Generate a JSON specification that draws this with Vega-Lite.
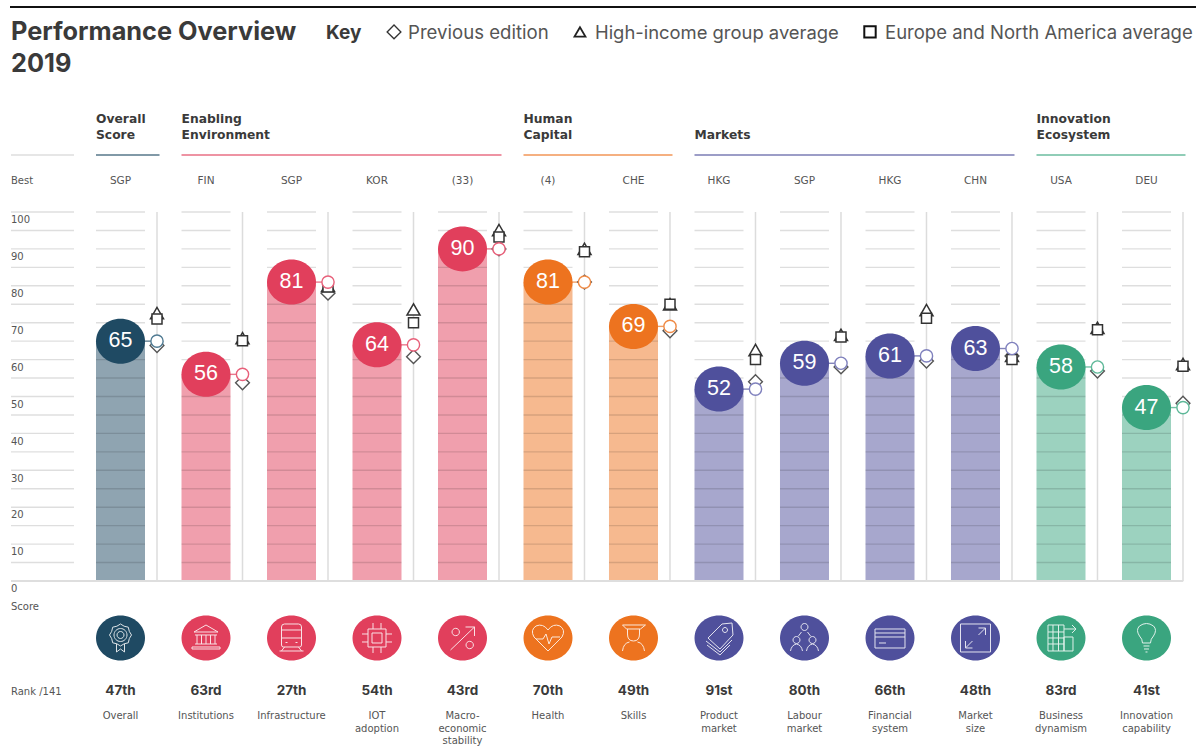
{"$schema":"https://vega.github.io/schema/vega-lite/v6.json","width":1196,"height":747,"padding":0,"autosize":{"type":"none"},"background":"white","config":{"view":{"stroke":null}},
"datasets":{"main":[
{"col":0,"pillar":"Overall","group":"Overall Score","score":65,"rank":"47th","code":"SGP","name":"Overall","prev":63.8,"high":72.6,"region":71},
{"col":1,"pillar":"Institutions","group":"Enabling Environment","score":56,"rank":"63rd","code":"FIN","name":"Institutions","prev":53.7,"high":65.8,"region":65.1},
{"col":2,"pillar":"Infrastructure","group":"Enabling Environment","score":81,"rank":"27th","code":"SGP","name":"Infrastructure","prev":78,"high":80,"region":79.7},
{"col":3,"pillar":"IOT adoption","group":"Enabling Environment","score":64,"rank":"54th","code":"KOR","name":"IOT\nadoption","prev":60.8,"high":73.6,"region":70},
{"col":4,"pillar":"Macroeconomic stability","group":"Enabling Environment","score":90,"rank":"43rd","code":"(33)","name":"Macro-\neconomic\nstability","prev":90,"high":95.1,"region":93.2},
{"col":5,"pillar":"Health","group":"Human Capital","score":81,"rank":"70th","code":"(4)","name":"Health","prev":81,"high":90,"region":89.2},
{"col":6,"pillar":"Skills","group":"Human Capital","score":69,"rank":"49th","code":"CHE","name":"Skills","prev":67.8,"high":75,"region":75},
{"col":7,"pillar":"Product market","group":"Markets","score":52,"rank":"91st","code":"HKG","name":"Product\nmarket","prev":54,"high":62.6,"region":60},
{"col":8,"pillar":"Labour market","group":"Markets","score":59,"rank":"80th","code":"SGP","name":"Labour\nmarket","prev":58,"high":66.7,"region":66.1},
{"col":9,"pillar":"Financial system","group":"Markets","score":61,"rank":"66th","code":"HKG","name":"Financial\nsystem","prev":59.6,"high":73.4,"region":71.2},
{"col":10,"pillar":"Market size","group":"Markets","score":63,"rank":"48th","code":"CHN","name":"Market\nsize","prev":61,"high":61,"region":60},
{"col":11,"pillar":"Business dynamism","group":"Innovation Ecosystem","score":58,"rank":"83rd","code":"USA","name":"Business\ndynamism","prev":56.9,"high":68.6,"region":68.1},
{"col":12,"pillar":"Innovation capability","group":"Innovation Ecosystem","score":47,"rank":"41st","code":"DEU","name":"Innovation\ncapability","prev":48.2,"high":58.8,"region":58.2}],
"groups":[
{"group":"Overall Score","line1":"Overall","line2":"Score","start":0,"end":0},
{"group":"Enabling Environment","line1":"Enabling","line2":"Environment","start":1,"end":4},
{"group":"Human Capital","line1":"Human","line2":"Capital","start":5,"end":6},
{"group":"Markets","line1":"","line2":"Markets","start":7,"end":10},
{"group":"Innovation Ecosystem","line1":"Innovation","line2":"Ecosystem","start":11,"end":12}],
"axisTicks":[{"tick":0},{"tick":10},{"tick":20},{"tick":30},{"tick":40},{"tick":50},{"tick":60},{"tick":70},{"tick":80},{"tick":90},{"tick":100}],
"levels":[{"level":5},{"level":10},{"level":15},{"level":20},{"level":25},{"level":30},{"level":35},{"level":40},{"level":45},{"level":50},{"level":55},{"level":60},{"level":65},{"level":70},{"level":75},{"level":80},{"level":85},{"level":90},{"level":95},{"level":100}],
"columnLevels":[{"col":0,"levels":[5,10,15,20,25,30,35,40,45,50,55,60,65,70,75,80,85,90,95,100]},{"col":1,"levels":[5,10,15,20,25,30,35,40,45,50,55,60,65,70,75,80,85,90,95,100]},{"col":2,"levels":[5,10,15,20,25,30,35,40,45,50,55,60,65,70,75,80,85,90,95,100]},{"col":3,"levels":[5,10,15,20,25,30,35,40,45,50,55,60,65,70,75,80,85,90,95,100]},{"col":4,"levels":[5,10,15,20,25,30,35,40,45,50,55,60,65,70,75,80,85,90,95,100]},{"col":5,"levels":[5,10,15,20,25,30,35,40,45,50,55,60,65,70,75,80,85,90,95,100]},{"col":6,"levels":[5,10,15,20,25,30,35,40,45,50,55,60,65,70,75,80,85,90,95,100]},{"col":7,"levels":[5,10,15,20,25,30,35,40,45,50,55,60,65,70,75,80,85,90,95,100]},{"col":8,"levels":[5,10,15,20,25,30,35,40,45,50,55,60,65,70,75,80,85,90,95,100]},{"col":9,"levels":[5,10,15,20,25,30,35,40,45,50,55,60,65,70,75,80,85,90,95,100]},{"col":10,"levels":[5,10,15,20,25,30,35,40,45,50,55,60,65,70,75,80,85,90,95,100]},{"col":11,"levels":[5,10,15,20,25,30,35,40,45,50,55,60,65,70,75,80,85,90,95,100]},{"col":12,"levels":[5,10,15,20,25,30,35,40,45,50,55,60,65,70,75,80,85,90,95,100]}]},
"data":{"name":"main"},
"layer":[
{"mark":{"type":"rule","xOffset":36.5,"stroke":"#dcdcdc","strokeWidth":1.5},"encoding":{"x":{"field":"col","type":"quantitative","axis":null,"scale":{"domain":[-1.4094,12.579],"nice":false,"zero":false,"padding":0}},"y":{"datum":0,"type":"quantitative","scale":{"domain":[-44.99,157.45],"nice":false,"zero":false},"axis":null},"y2":{"datum":100}}},
{"mark":{"type":"bar","width":49,"orient":"vertical","opacity":0.5},"encoding":{"x":{"field":"col","type":"quantitative","axis":null},"y":{"field":"score","type":"quantitative","axis":null},"y2":{"datum":0},"color":{"field":"group","type":"nominal","legend":null,"scale":{"domain":["Overall Score","Enabling Environment","Human Capital","Markets","Innovation Ecosystem"],"range":["#1f4a63","#e13f5c","#ed731f","#4f509c","#3aa57f"]}}}},
{"data":{"name":"columnLevels"},"transform":[{"flatten":["levels"]}],"mark":{"type":"tick","orient":"horizontal","size":49,"thickness":1.4,"color":"#000","opacity":0.13},"encoding":{"x":{"field":"col","type":"quantitative","axis":null},"y":{"field":"levels","type":"quantitative","axis":null}}},
{"data":{"name":"levels"},"mark":{"type":"rule","stroke":"#000","opacity":0.13,"strokeWidth":1.4},"encoding":{"x":{"datum":-1.2807,"type":"quantitative","axis":null},"x2":{"datum":-0.5439},"y":{"field":"level","type":"quantitative","axis":null}}},
{"data":{"name":"axisTicks"},"mark":{"type":"text","font":"DejaVu Sans","fontSize":10,"fill":"#555","align":"left","baseline":"middle","dy":8.3},"encoding":{"x":{"datum":-1.2807,"type":"quantitative","axis":null},"y":{"field":"tick","type":"quantitative","axis":null},"text":{"field":"tick"}}},
{"data":{"values":[{"line":"baseline"}]},"mark":{"type":"rule","stroke":"#dedede","strokeWidth":2},"encoding":{"x":{"datum":-1.2807,"type":"quantitative","axis":null},"x2":{"datum":12.43},"y":{"datum":0,"type":"quantitative","axis":null}}},
{"data":{"values":[{"line":"top"}]},"mark":{"type":"rule","stroke":"#111","strokeWidth":2},"encoding":{"x":{"datum":-1.2924,"type":"quantitative","axis":null},"x2":{"datum":12.579},"y":{"datum":155.56,"type":"quantitative","axis":null}}},
{"data":{"values":[{"line":"axis"}]},"mark":{"type":"rule","stroke":"#dedede","strokeWidth":1.5},"encoding":{"x":{"datum":-1.2807,"type":"quantitative","axis":null},"x2":{"datum":-0.5439},"y":{"datum":115.45,"type":"quantitative","axis":null}}},
{"data":{"name":"groups"},"mark":{"type":"rule","xOffset":-24.5,"x2Offset":39,"strokeWidth":1.5,"opacity":0.75},"encoding":{"x":{"field":"start","type":"quantitative","axis":null},"x2":{"field":"end"},"y":{"datum":115.45,"type":"quantitative","axis":null},"color":{"field":"group","type":"nominal","legend":null}}},
{"data":{"name":"groups"},"mark":{"type":"text","align":"left","baseline":"middle","dx":-24.5,"font":"DejaVu Sans","fontWeight":"bold","fontSize":12.3,"fill":"#3a3a3a"},"encoding":{"x":{"field":"start","type":"quantitative","axis":null},"y":{"datum":125.1,"type":"quantitative","axis":null},"text":{"field":"line1"}}},
{"data":{"name":"groups"},"mark":{"type":"text","align":"left","baseline":"middle","dx":-24.5,"font":"DejaVu Sans","fontWeight":"bold","fontSize":12.3,"fill":"#3a3a3a"},"encoding":{"x":{"field":"start","type":"quantitative","axis":null},"y":{"datum":120.75,"type":"quantitative","axis":null},"text":{"field":"line2"}}},
{"mark":{"type":"tick","orient":"horizontal","size":13,"thickness":1.4,"xOffset":30},"encoding":{"x":{"field":"col","type":"quantitative","axis":null},"y":{"field":"score","type":"quantitative","axis":null},"color":{"field":"group","type":"nominal","legend":null}}},
{"mark":{"type":"point","shape":"diamond","size":190,"filled":true,"fill":"white","stroke":"#555","strokeWidth":1.4,"opacity":1,"xOffset":36.5},"encoding":{"x":{"field":"col","type":"quantitative","axis":null},"y":{"field":"prev","type":"quantitative","axis":null}}},
{"mark":{"type":"point","shape":"triangle-up","size":170,"filled":true,"fill":"white","stroke":"#333","strokeWidth":1.5,"opacity":1,"xOffset":36.5},"encoding":{"x":{"field":"col","type":"quantitative","axis":null},"y":{"field":"high","type":"quantitative","axis":null}}},
{"mark":{"type":"point","shape":"square","size":100,"filled":true,"fill":"white","stroke":"#333","strokeWidth":1.5,"opacity":1,"xOffset":36.5},"encoding":{"x":{"field":"col","type":"quantitative","axis":null},"y":{"field":"region","type":"quantitative","axis":null}}},
{"mark":{"type":"point","shape":"circle","size":150,"filled":true,"fill":"white","strokeWidth":1.4,"opacity":1,"xOffset":36.5},"encoding":{"x":{"field":"col","type":"quantitative","axis":null},"y":{"field":"score","type":"quantitative","axis":null},"stroke":{"field":"group","type":"nominal","legend":null,"scale":{"domain":["Overall Score","Enabling Environment","Human Capital","Markets","Innovation Ecosystem"],"range":["#4f7a92","#e8607a","#ef8a45","#7f80bd","#5db898"]}}}},
{"mark":{"type":"point","shape":"M-24.5,0A24.5,22.5,0,1,1,24.5,0A24.5,22.5,0,1,1,-24.5,0Z","size":4,"filled":true,"opacity":1},"encoding":{"x":{"field":"col","type":"quantitative","axis":null},"y":{"field":"score","type":"quantitative","axis":null},"color":{"field":"group","type":"nominal","legend":null}}},
{"mark":{"type":"text","font":"Liberation Sans","fontSize":21.5,"fill":"white","align":"center","baseline":"middle"},"encoding":{"x":{"field":"col","type":"quantitative","axis":null},"y":{"field":"score","type":"quantitative","axis":null},"text":{"field":"score"}}},
{"mark":{"type":"point","shape":"M-24.5,0A24.5,22.5,0,1,1,24.5,0A24.5,22.5,0,1,1,-24.5,0Z","size":4,"filled":true,"opacity":1},"encoding":{"x":{"field":"col","type":"quantitative","axis":null},"y":{"datum":-15.45,"type":"quantitative","axis":null},"color":{"field":"group","type":"nominal","legend":null}}},
{"mark":{"type":"point","size":4,"filled":false,"stroke":"white","strokeWidth":1,"opacity":0.85},"encoding":{"x":{"field":"col","type":"quantitative","axis":null},"y":{"datum":-15.45,"type":"quantitative","axis":null},"shape":{"field":"pillar","type":"nominal","legend":null,"scale":{"domain":["Overall","Institutions","Infrastructure","IOT adoption","Macroeconomic stability","Health","Skills","Product market","Labour market","Financial system","Market size","Business dynamism","Innovation capability"],"range":[
"M11,-3L8.8,0.6L7.8,4.8L3.6,5.8L0,8L-3.6,5.8L-7.8,4.8L-8.8,0.6L-11,-3L-8.8,-6.6L-7.8,-10.8L-3.6,-11.8L0,-14L3.6,-11.8L7.8,-10.8L8.8,-6.6ZM-6.5,-3A6.5,6.5,0,1,0,6.5,-3A6.5,6.5,0,1,0,-6.5,-3ZM-3.5,-3A3.5,3.5,0,1,0,3.5,-3A3.5,3.5,0,1,0,-3.5,-3ZM-4,6V14L0,11L4,14V6",
"M-12,-6L0,-13L12,-6ZM-11,-3H11M-9,-3V6M-4.5,-3V6M0,-3V6M4.5,-3V6M9,-3V6M-11,6H11M-14,9H14V11H-14Z",
"M-7,-14H7Q10,-14 10,-11V7Q10,9 8,9H-8Q-10,9 -10,7V-11Q-10,-14 -7,-14ZM-10,-8H10M-10,0H10M-6,4.5H-4M4,4.5H6M-7,9L-10,13M7,9L10,13M-12,13H12",
"M-9,-9H9V9H-9ZM-5,-5H5V5H-5ZM-15,-4H-9M-15,4H-9M9,-4H15M9,4H15M-4,-15V-9M4,-15V-9M-4,9V15M4,9V15",
"M-12,12L12,-11M3,-11H12V-2M-10.5,-6A3.7,3.7,0,1,0,-3.1,-6A3.7,3.7,0,1,0,-10.5,-6ZM3.5,7A3.7,3.7,0,1,0,10.9,7A3.7,3.7,0,1,0,3.5,7Z",
"M0,13L-14,-1Q-18,-8 -12,-12Q-5,-15 0,-8Q5,-15 12,-12Q18,-8 14,-1ZM-12,1H-5L-2,-4L1,6L4,-1H12",
"M-11,-13H12L7,-9H-7ZM-6,-9V-4Q-6,3 0,3Q6,3 6,-4V-9M-11,13Q-10,5 -4,4M11,13Q10,5 4,4",
"M13,-15L3,-14L-11,0L1,11L14,-3ZM3.5,-8A2.5,2.5,0,1,0,8.5,-8A2.5,2.5,0,1,0,3.5,-8ZM-13,3L1,14L13,2M-12,7L1,17L11,7",
"M-3.5,-11A3.5,3.5,0,1,0,3.5,-11A3.5,3.5,0,1,0,-3.5,-11ZM-11.5,2A3.5,3.5,0,1,0,-4.5,2A3.5,3.5,0,1,0,-11.5,2ZM4.5,2A3.5,3.5,0,1,0,11.5,2A3.5,3.5,0,1,0,4.5,2ZM-14,13Q-13,7 -8,6Q-3,7 -2,13M2,13Q3,7 8,6Q13,7 14,13M-3,-6L-6,-2M3,-6L6,-2",
"M-15,-9H15V10H-15ZM-15,-5H15M-15,-1H15M-11,5H-4",
"M-15,-14H15V14H-15ZM-10,10L-3,3M3,-3L10,-10M3,-10H10V-3M-10,3V10H-3",
"M-13,-13H3V13H-13ZM3,-1H12V13H3ZM-13,-6H3M-13,0H3M-13,6H3M-8,-13V13M-2.5,-13V13M3,-9H15M11,-13L15,-9L11,-5",
"M-4,5Q-4,1 -7,-2Q-11,-8 -7,-12Q0,-17 7,-12Q11,-8 7,-2Q4,1 4,5ZM-3,8H3M-2.5,11H2.5M-1,14H1"
]}}}},
{"mark":{"type":"text","font":"DejaVu Sans","fontSize":10.5,"fill":"#555","align":"center","baseline":"middle"},"encoding":{"x":{"field":"col","type":"quantitative","axis":null},"y":{"datum":108.4,"type":"quantitative","axis":null},"text":{"field":"code"}}},
{"mark":{"type":"text","font":"Inter","fontWeight":"bold","fontSize":13.5,"fill":"#3a3a3a","align":"center","baseline":"middle"},"encoding":{"x":{"field":"col","type":"quantitative","axis":null},"y":{"datum":-29.8,"type":"quantitative","axis":null},"text":{"field":"rank"}}},
{"mark":{"type":"text","font":"DejaVu Sans","fontSize":10,"fill":"#555","align":"center","baseline":"top","lineBreak":"\n","lineHeight":12.5},"encoding":{"x":{"field":"col","type":"quantitative","axis":null},"y":{"datum":-35.3,"type":"quantitative","axis":null},"text":{"field":"name"}}},
{"data":{"values":[{"t":"Best"}]},"mark":{"type":"text","font":"DejaVu Sans","fontSize":10,"fill":"#555","align":"left","baseline":"middle"},"encoding":{"x":{"datum":-1.2807,"type":"quantitative","axis":null},"y":{"datum":108.4,"type":"quantitative","axis":null},"text":{"field":"t"}}},
{"data":{"values":[{"t":"Score"}]},"mark":{"type":"text","font":"DejaVu Sans","fontSize":10,"fill":"#555","align":"left","baseline":"middle"},"encoding":{"x":{"datum":-1.2807,"type":"quantitative","axis":null},"y":{"datum":-7.05,"type":"quantitative","axis":null},"text":{"field":"t"}}},
{"data":{"values":[{"t":"Rank /141"}]},"mark":{"type":"text","font":"DejaVu Sans","fontSize":10,"fill":"#555","align":"left","baseline":"middle"},"encoding":{"x":{"datum":-1.2807,"type":"quantitative","axis":null},"y":{"datum":-30.05,"type":"quantitative","axis":null},"text":{"field":"t"}}},
{"data":{"values":[{"t":"Performance Overview"}]},"mark":{"type":"text","font":"Inter","fontWeight":"bold","fontSize":25.3,"fill":"#3a3a3a","align":"left","baseline":"middle"},"encoding":{"x":{"datum":-1.2807,"type":"quantitative","axis":null},"y":{"datum":148.85,"type":"quantitative","axis":null},"text":{"field":"t"}}},
{"data":{"values":[{"t":"2019"}]},"mark":{"type":"text","font":"Inter","fontWeight":"bold","fontSize":25.3,"fill":"#3a3a3a","align":"left","baseline":"middle"},"encoding":{"x":{"datum":-1.2807,"type":"quantitative","axis":null},"y":{"datum":140.2,"type":"quantitative","axis":null},"text":{"field":"t"}}},
{"data":{"values":[{"t":"Key"}]},"mark":{"type":"text","font":"Inter","fontWeight":"bold","fontSize":19,"fill":"#3a3a3a","align":"left","baseline":"middle"},"encoding":{"x":{"datum":2.4035,"type":"quantitative","axis":null},"y":{"datum":148.6,"type":"quantitative","axis":null},"text":{"field":"t"}}},
{"data":{"values":[{"t":"Previous edition"}]},"mark":{"type":"text","font":"Inter","fontSize":18.6,"fill":"#555","align":"left","baseline":"middle"},"encoding":{"x":{"datum":3.3626,"type":"quantitative","axis":null},"y":{"datum":148.6,"type":"quantitative","axis":null},"text":{"field":"t"}}},
{"data":{"values":[{"t":"High-income group average"}]},"mark":{"type":"text","font":"Inter","fontSize":18.4,"fill":"#555","align":"left","baseline":"middle"},"encoding":{"x":{"datum":5.5497,"type":"quantitative","axis":null},"y":{"datum":148.6,"type":"quantitative","axis":null},"text":{"field":"t"}}},
{"data":{"values":[{"t":"Europe and North America average"}]},"mark":{"type":"text","font":"Inter","fontSize":18.5,"fill":"#555","align":"left","baseline":"middle"},"encoding":{"x":{"datum":8.942,"type":"quantitative","axis":null},"y":{"datum":148.6,"type":"quantitative","axis":null},"text":{"field":"t"}}},
{"data":{"values":[{"k":"Previous edition"}]},"mark":{"type":"point","shape":"diamond","size":190,"filled":false,"stroke":"#333","strokeWidth":1.3,"opacity":1},"encoding":{"x":{"datum":3.199,"type":"quantitative","axis":null},"y":{"datum":148.8,"type":"quantitative","axis":null}}},
{"data":{"values":[{"k":"High-income group average"}]},"mark":{"type":"point","shape":"triangle-up","size":120,"filled":false,"stroke":"#222","strokeWidth":1.8,"opacity":1},"encoding":{"x":{"datum":5.374,"type":"quantitative","axis":null},"y":{"datum":148.8,"type":"quantitative","axis":null}}},
{"data":{"values":[{"k":"Europe and North America average"}]},"mark":{"type":"point","shape":"square","size":130,"filled":false,"stroke":"#111","strokeWidth":2,"opacity":1},"encoding":{"x":{"datum":8.766,"type":"quantitative","axis":null},"y":{"datum":148.8,"type":"quantitative","axis":null}}}
]}
